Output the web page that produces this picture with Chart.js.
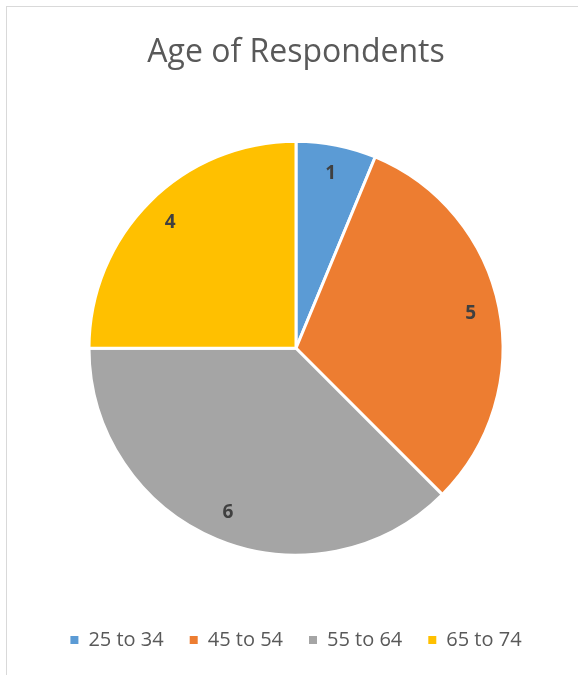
<!DOCTYPE html>
<html>
<head>
<meta charset="utf-8">
<script src="https://cdn.jsdelivr.net/npm/chart.js@4.4.0/dist/chart.umd.min.js"></script>
<style>
  html, body { margin: 0; padding: 0; background: #fff; }
  #frame { position: absolute; left: 6px; top: 6px; width: 600px; height: 700px; border-top: 1px solid #d9d9d9; border-left: 1px solid #d9d9d9; }
  #wrap { position: absolute; left: 0; top: 0; width: 578px; height: 675px; }
</style>
</head>
<body>
<div id="frame"></div>
<div id="wrap"><canvas id="c"></canvas></div>
<script>
const categories = ["25 to 34", "45 to 54", "55 to 64", "65 to 74"];
const counts = [1, 5, 6, 4];
const sliceColors = ["#5B9BD5", "#ED7D31", "#A5A5A5", "#FFC000"];
const chartTitle = "Age of Respondents";

const labelPlugin = {
  id: 'sliceLabels',
  afterDatasetsDraw(chart) {
    const ctx = chart.ctx;
    const meta = chart.getDatasetMeta(0);
    ctx.save();
    ctx.font = 'bold 19px "Open Sans"';
    ctx.fillStyle = '#404040';
    ctx.textAlign = 'center';
    ctx.textBaseline = 'middle';
    meta.data.forEach((arc, i) => {
      const p = arc.getProps(['x', 'y', 'startAngle', 'endAngle', 'outerRadius'], true);
      const mid = (p.startAngle + p.endAngle) / 2;
      const r = p.outerRadius * 0.86;
      ctx.fillText(String(chart.data.datasets[0].data[i]), p.x + Math.cos(mid) * r, p.y + Math.sin(mid) * r);
    });
    ctx.restore();
  }
};

new Chart(document.getElementById('c'), {
  type: 'pie',
  data: {
    labels: categories,
    datasets: [{
      data: counts,
      backgroundColor: sliceColors,
      borderColor: '#ffffff',
      borderWidth: 3,
      radius: 207
    }]
  },
  options: {
    responsive: true,
    maintainAspectRatio: false,
    animation: false,
    layout: { padding: { left: 14, right: 0, top: 0, bottom: 15 } },
    plugins: {
      title: {
        display: true,
        text: chartTitle,
        color: '#595959',
        font: { family: '"Open Sans"', size: 32, weight: 'normal' },
        padding: { top: 34, bottom: 20 }
      },
      legend: {
        position: 'bottom',
        labels: {
          color: '#595959',
          font: { family: '"Open Sans"', size: 20 },
          boxWidth: 8,
          boxHeight: 8,
          padding: 26,
          generateLabels(chart) {
            const items = Chart.overrides.pie.plugins.legend.labels.generateLabels(chart);
            items.forEach(it => { it.lineWidth = 0; it.strokeStyle = it.fillStyle; });
            return items;
          }
        }
      },
      tooltip: { enabled: false }
    }
  },
  plugins: [labelPlugin]
});
</script>
</body>
</html>
